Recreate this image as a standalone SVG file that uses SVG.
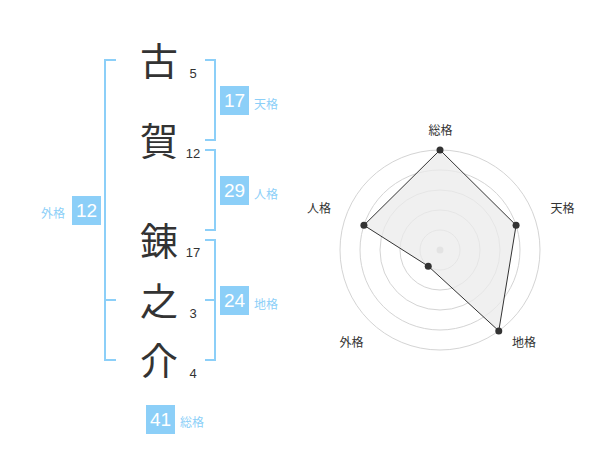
<svg xmlns="http://www.w3.org/2000/svg" width="600" height="470" viewBox="0 0 600 470">
<style>
.k{font-family:"Noto Sans CJK JP","Noto Sans CJK SC",sans-serif;font-size:38px;fill:#333;text-anchor:middle}
.n{font-family:"Liberation Sans",Arial,sans-serif;font-size:13px;fill:#333;text-anchor:middle}
.bx{fill:#8ccff8}
.bn{font-family:"Liberation Sans",Arial,sans-serif;font-size:19px;fill:#fff;text-anchor:middle}
.bl{font-family:"Noto Sans CJK JP","Noto Sans CJK SC",sans-serif;font-size:12px;fill:#8ccff8}
.br{fill:none;stroke:#8ccff8;stroke-width:2}
.rl{font-family:"Noto Sans CJK JP","Noto Sans CJK SC",sans-serif;font-size:12px;fill:#333;text-anchor:middle}
.ring{fill:none;stroke:#d4d4d4;stroke-width:1}
.dot{fill:#333}
</style>
<rect width="600" height="470" fill="#fff"/>
<g id="name">
<text class="k" x="159" y="74.5">古</text>
<text class="k" x="159" y="155">賀</text>
<text class="k" x="159" y="254.5">錬</text>
<text class="k" x="159" y="314.5">之</text>
<text class="k" x="159" y="374.5">介</text>
<text class="n" x="193" y="78">5</text>
<text class="n" x="193" y="158">12</text>
<text class="n" x="193" y="257">17</text>
<text class="n" x="193" y="317.5">3</text>
<text class="n" x="193" y="377.5">4</text>
</g>
<g id="brackets">
<path class="br" d="M116,60 H105 V360 H116 M105,300 H116"/>
<path class="br" d="M205,60 H215 V140 H205"/>
<path class="br" d="M205,150 H215 V230 H205"/>
<path class="br" d="M205,240 H215 V360 H205 M205,300 H215"/>
</g>
<g id="tenkaku">
<rect class="bx" x="220" y="86" width="29" height="29"/>
<text class="bn" x="234.5" y="107.3">17</text>
<text class="bl" x="254" y="108.5">天格</text>
</g>
<g id="jinkaku">
<rect class="bx" x="220" y="176" width="29" height="29"/>
<text class="bn" x="234.5" y="197.3">29</text>
<text class="bl" x="254" y="199">人格</text>
</g>
<g id="chikaku">
<rect class="bx" x="220" y="286" width="29" height="29"/>
<text class="bn" x="234.5" y="307.3">24</text>
<text class="bl" x="254" y="308.8">地格</text>
</g>
<g id="gaikaku">
<rect class="bx" x="72" y="196" width="29" height="29"/>
<text class="bn" x="86.5" y="217.3">12</text>
<text class="bl" x="65" y="217.5" text-anchor="end">外格</text>
</g>
<g id="soukaku">
<rect class="bx" x="146" y="405" width="29" height="29"/>
<text class="bn" x="160.5" y="426.3">41</text>
<text class="bl" x="180" y="426.5">総格</text>
</g>
<g id="radar">
<circle class="ring" cx="440" cy="250" r="20"/>
<circle class="ring" cx="440" cy="250" r="40"/>
<circle class="ring" cx="440" cy="250" r="60"/>
<circle class="ring" cx="440" cy="250" r="80"/>
<circle class="ring" cx="440" cy="250" r="100"/>
<circle cx="440" cy="250" r="3.5" fill="#ccc"/>
<polygon points="440,150 516.08,225.28 498.78,330.9 428.24,266.18 363.92,225.28" fill="#ebebeb" fill-opacity="0.75" stroke="#333" stroke-width="1"/>
<circle class="dot" cx="440" cy="150" r="3.5"/>
<circle class="dot" cx="516.08" cy="225.28" r="3.5"/>
<circle class="dot" cx="498.78" cy="330.9" r="3.5"/>
<circle class="dot" cx="428.24" cy="266.18" r="3.5"/>
<circle class="dot" cx="363.92" cy="225.28" r="3.5"/>
<text class="rl" x="440.5" y="135">総格</text>
<text class="rl" x="562.5" y="213">天格</text>
<text class="rl" x="524" y="347">地格</text>
<text class="rl" x="351.5" y="347">外格</text>
<text class="rl" x="319" y="212.5">人格</text>
</g>
</svg>
